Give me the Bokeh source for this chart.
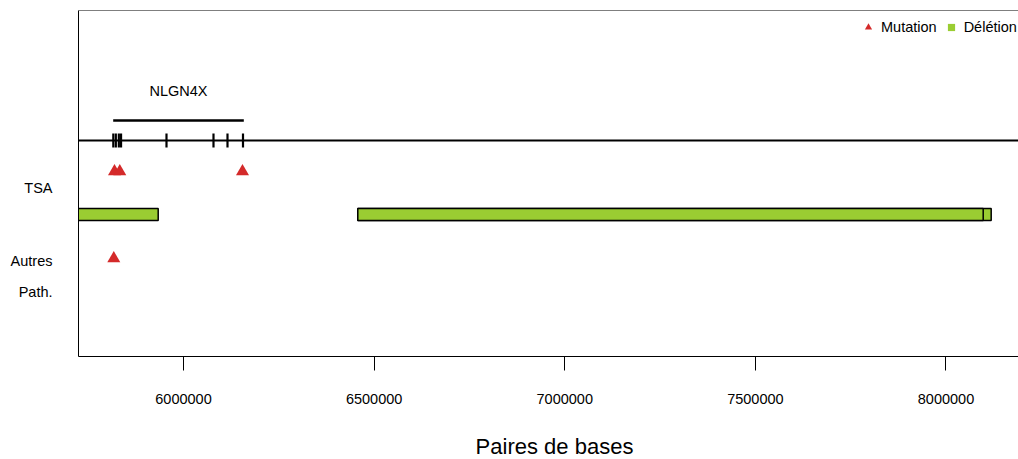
from bokeh.plotting import figure
from bokeh.layouts import column
from bokeh.models import (FixedTicker, Span, Legend, LegendItem, Range1d,
                          BasicTickFormatter, ColumnDataSource)
from bokeh.core.properties import value
from bokeh.embed import file_html
from bokeh.resources import INLINE

# ---------------- data ----------------
gene_name = ["NLGN4X"]
gene_start = [5815600]
gene_end = [6158200]
exon_pos = [5815900, 5822500, 5830400, 5836200, 5955410, 6078690, 6115410, 6156070]

mut_pos = [5819000, 5832900, 6154760, 5817180]
mut_group = ["TSA", "TSA", "TSA", "Autres"]

del_start = [5700000, 6457190, 6457190]
del_end = [5933640, 8118560, 8097610]
del_group = ["TSA", "TSA", "TSA"]

x_ticks = [6000000, 6500000, 7000000, 7500000, 8000000]
row_labels = ["TSA", "Autres", "Path."]
x_title = "Paires de bases"

# ---------------- layout (screen-like units) ----------------
FONT = "Liberation Sans"
RED = "#D42A2A"
GREEN = "#9ACD32"
Y_TOP = 346
mut_row_y = {"TSA": 185, "Autres": 98}
del_row_y = {"TSA": 142}
row_label_y = [169, 96, 65]
baseline_y = 216
gene_line_y = 236
gene_text_y = 266
exon_half = 7
bar_half = 6
FRAME_W = 940
TITLE_H = 39
TITLE_BASE = 13         # baseline of the x title, px above the strip bottom
TITLE_CENTER = 476      # px from the frame's left edge

xr = Range1d(5724600, 8190200)

p = figure(width=1018, height=459 - TITLE_H, output_backend="svg", toolbar_location=None,
           x_range=xr, y_range=Range1d(0, Y_TOP),
           min_border_left=78, min_border_right=0, min_border_top=10,
           min_border_bottom=64)
p.outline_line_color = None
p.xgrid.visible = False
p.ygrid.visible = False
p.background_fill_color = "white"

# x axis
xa = p.xaxis[0]
xa.ticker = FixedTicker(ticks=x_ticks)
xa.formatter = BasicTickFormatter(use_scientific=False)
xa.major_tick_out = 14
xa.major_tick_in = 0
xa.minor_tick_out = 0
xa.minor_tick_in = 0
xa.major_label_standoff = 23
xa.major_label_text_font = FONT
xa.major_label_text_font_size = "14.5px"
xa.major_label_text_color = "black"
xa.axis_line_color = "black"
xa.major_tick_line_color = "black"

# y axis (row labels)
ya = p.yaxis[0]
ya.ticker = FixedTicker(ticks=row_label_y)
ya.major_label_overrides = {y: lbl for y, lbl in zip(row_label_y, row_labels)}
ya.major_tick_out = 0
ya.major_tick_in = 0
ya.minor_tick_out = 0
ya.minor_tick_in = 0
ya.major_label_standoff = 26
ya.major_label_text_font = FONT
ya.major_label_text_font_size = "14.5px"
ya.major_label_text_color = "black"
ya.axis_line_color = "black"

# top border and chromosome baseline
p.add_layout(Span(location=Y_TOP, dimension="width", line_color="black", line_width=1))
p.add_layout(Span(location=baseline_y, dimension="width", line_color="black", line_width=1.8))

# gene
p.segment(x0=gene_start, y0=[gene_line_y], x1=gene_end, y1=[gene_line_y],
          line_color="black", line_width=2.5)
p.segment(x0=exon_pos, y0=[baseline_y - exon_half] * len(exon_pos),
          x1=exon_pos, y1=[baseline_y + exon_half] * len(exon_pos),
          line_color="black", line_width=2.2)
p.text(x=[(s + e) / 2 for s, e in zip(gene_start, gene_end)], y=[gene_text_y],
       text=gene_name, text_font=value(FONT), text_font_size="14.5px",
       text_align="center", text_baseline="middle", text_color="black")

# deletions
del_src = ColumnDataSource(dict(
    left=del_start, right=del_end,
    bottom=[del_row_y[g] - bar_half for g in del_group],
    top=[del_row_y[g] + bar_half for g in del_group]))
p.quad(left="left", right="right", bottom="bottom", top="top", source=del_src,
       fill_color=GREEN, line_color="black", line_width=1.5)

# mutations
mut_src = ColumnDataSource(dict(x=mut_pos, y=[mut_row_y[g] for g in mut_group]))
r_mut = p.scatter(x="x", y="y", source=mut_src, marker="triangle", size=13,
                  fill_color=RED, line_color=None)

# legend proxy for deletions (a non-drawn point)
r_del_leg = p.scatter(x=[float("nan")], y=[float("nan")], marker="square",
                      size=6, fill_color=GREEN, line_color=None)

legend = Legend(items=[LegendItem(label="Mutation", renderers=[r_mut]),
                       LegendItem(label="Délétion", renderers=[r_del_leg])],
                orientation="horizontal", location=(781, 320),
                border_line_color=None, background_fill_alpha=0,
                padding=0, margin=0, glyph_width=18, glyph_height=18,
                label_standoff=4, spacing=5,
                label_text_font=FONT, label_text_font_size="14.5px",
                label_text_color="black")
p.add_layout(legend)

# x axis title strip
pt = figure(width=1018, height=TITLE_H, output_backend="svg", toolbar_location=None,
            x_range=xr, y_range=Range1d(0, TITLE_H),
            x_axis_location=None, y_axis_location=None,
            min_border_left=78, min_border_right=0, min_border_top=0,
            min_border_bottom=0)
pt.outline_line_color = None
pt.xgrid.visible = False
pt.ygrid.visible = False
title_x = xr.start + TITLE_CENTER / FRAME_W * (xr.end - xr.start)
pt.text(x=[title_x], y=[TITLE_BASE], text=[x_title], text_font=value(FONT),
        text_font_size="22px", text_align="center", text_baseline="alphabetic",
        text_color="black")

layout = column(p, pt, spacing=0)
open("out.html", "w").write(file_html(layout, INLINE))
